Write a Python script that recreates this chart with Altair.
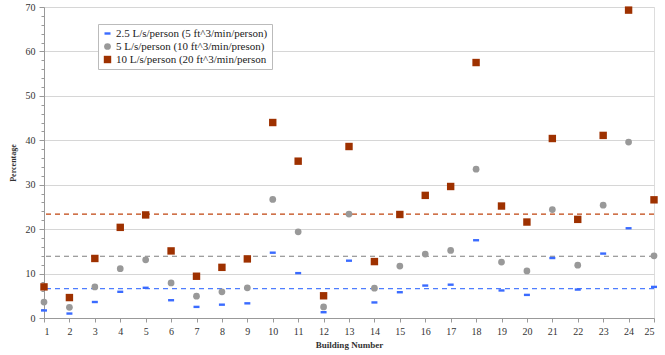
import altair as alt
import pandas as pd

buildings = list(range(1, 26))
low = [1.7, 1.0, 3.6, 5.9, 6.8, 4.0, 2.5, 3.0, 3.3, 14.7, 10.1, 1.3, 12.9, 3.5, 5.8,
       7.3, 7.5, 17.5, 6.2, 5.2, 13.5, 6.4, 14.5, 20.2, 7.0]
mid = [3.6, 2.4, 7.0, 11.1, 13.1, 7.9, 4.9, 5.9, 6.8, 26.7, 19.4, 2.5, 23.4, 6.7, 11.7,
       14.4, 15.2, 33.5, 12.6, 10.6, 24.4, 11.9, 25.4, 39.6, 14.0]
high = [7.0, 4.6, 13.4, 20.4, 23.2, 15.1, 9.4, 11.4, 13.3, 44.0, 35.3, 5.0, 38.6, 12.7, 23.3,
        27.6, 29.6, 57.5, 25.2, 21.6, 40.4, 22.2, 41.1, 69.3, 26.6]
series_names = ["2.5 L/s/person (5 ft^3/min/person)",
                "5 L/s/person (10 ft^3/min/preson)",
                "10 L/s/person (20 ft^3/min/person"]
ref_levels = [6.6, 13.9, 23.4]
y_ticks = list(range(0, 71, 2))

colors = ["#3a6bff", "#999999", "#9e3100"]
line_colors = ["#4d7dff", "#7f7f7f", "#c0440f"]
dash_path = "M-1,-0.4L1,-0.4L1,0.4L-1,0.4Z"

rows = []
for s, vals in zip(series_names, [low, mid, high]):
    for b, v in zip(buildings, vals):
        rows.append({"Building": b, "Series": s, "Value": v})
df = pd.DataFrame(rows)

FONT = "Liberation Serif"

x_enc = alt.X("Building:Q",
              scale=alt.Scale(domain=[1, 25], nice=False, zero=False),
              axis=alt.Axis(values=buildings, title="Building Number", grid=False,
                            labelFont=FONT, labelFontSize=10, labelColor="#333333",
                            titleFont=FONT, titleFontSize=9, titleFontWeight="bold",
                            titleColor="#333333", tickColor="#999999", tickSize=4,
                            domainColor="#999999", labelPadding=4, titlePadding=4))

y_scale = alt.Scale(domain=[0, 70], nice=False)

y_axis = alt.Axis(values=y_ticks, title="Percentage",
                  labelExpr="datum.value % 10 === 0 ? datum.label : ''",
                  labelOverlap=False,
                  gridOpacity={"condition": {"test": "datum.value % 10 === 0", "value": 1}, "value": 0},
                  tickSize={"condition": {"test": "datum.value % 10 === 0", "value": 5}, "value": 3},
                  gridColor="#d6d6d6", tickColor="#999999", domainColor="#999999",
                  labelFont=FONT, labelFontSize=10, labelColor="#333333",
                  titleFont=FONT, titleFontSize=8, titleFontWeight="bold",
                  titleColor="#333333", labelPadding=4, titlePadding=8)

layers = []
for lvl, lc in zip(ref_levels, line_colors):
    layers.append(
        alt.Chart(pd.DataFrame({"Level": [lvl]})).mark_rule(
            strokeWidth=1.2, strokeDash=[5, 4], color=lc
        ).encode(y=alt.Y("Level:Q", scale=y_scale, axis=y_axis))
    )

points = alt.Chart(df).mark_point(filled=True, opacity=1, clip=False).encode(
    x=x_enc,
    y=alt.Y("Value:Q", scale=y_scale, axis=y_axis),
    color=alt.Color("Series:N", scale=alt.Scale(domain=series_names, range=colors),
                    legend=alt.Legend(title=None, orient="none", legendX=54, legendY=17,
                                      labelFont=FONT, labelFontSize=11, labelColor="#222222",
                                      strokeColor="#bbbbbb", fillColor="white",
                                      padding=4, rowPadding=1, symbolSize=50, labelLimit=300,
                                      symbolOffset=0, labelOffset=3)),
    shape=alt.Shape("Series:N", scale=alt.Scale(domain=series_names, range=[dash_path, "circle", "square"])),
    size=alt.Size("Series:N", scale=alt.Scale(domain=series_names, range=[36, 55, 70]), legend=None),
)
layers.append(points)

chart = alt.layer(*layers).properties(
    width=610, height=311,
    padding={"left": 44, "top": 7, "right": 11, "bottom": 37},
    autosize=alt.AutoSizeParams(type="none"),
).configure_view(stroke="#c8c8c8", strokeWidth=1.5).configure_axis(
    labelFont=FONT, titleFont=FONT
).configure_legend(labelFont=FONT).configure(background="white")

chart.save("out.html", embed_options={"renderer": "svg", "actions": False})
